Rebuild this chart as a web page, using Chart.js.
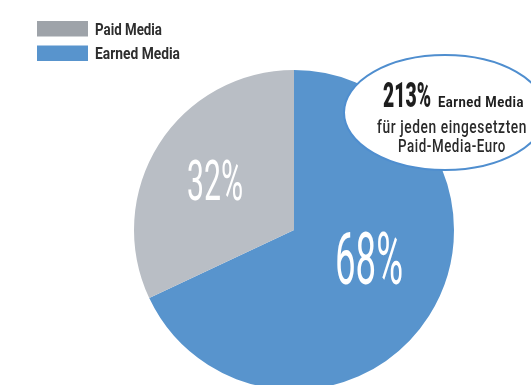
<!DOCTYPE html>
<html lang="de">
<head>
  <meta charset="UTF-8">
  <title>Paid Media vs. Earned Media</title>
  <script src="https://cdn.jsdelivr.net/npm/chart.js"></script>
  <style>
    html, body {
      margin: 0;
      padding: 0;
      background: #ffffff;
      overflow: hidden;
    }
    #wrap {
      position: absolute;
      left: 0;
      top: 0;
      width: 531px;
      height: 400px;
    }
  </style>
</head>
<body>
  <div id="wrap">
    <canvas id="mediaChart" width="531" height="400"></canvas>
  </div>

  <script>
    // legend order: Paid Media on top
    const categories = ['Paid Media', 'Earned Media'];
    const shares = [32, 68];
    const sliceColors = ['#b9bec5', '#5894cd'];
    const legendColors = ['#9ea3a9', '#5894cd'];
    const earnedPerEuro = 213;
    const calloutUnit = 'Earned Media';
    const calloutLines = ['für jeden eingesetzten', 'Paid-Media-Euro'];

    const FONT = 'Roboto, "Noto Sans", sans-serif';

    // the pie runs clockwise from 12 o'clock, Earned Media first
    const pieLabels = categories.slice().reverse();
    const pieValues = shares.slice().reverse();
    const pieColors = sliceColors.slice().reverse();

    // per slice: font size, squeezed width, radial fraction, angle nudge (deg)
    const labelStyle = [
      { size: 72, w: 68, r: 0.50, nudge: -12 },
      { size: 56, w: 56, r: 0.585, nudge: 0 }
    ];

    // draws text squeezed horizontally to a given width (condensed look)
    function fillFit(ctx, text, x, y, width, align) {
      const natural = ctx.measureText(text).width;
      const sx = Math.min(1, width / natural);
      ctx.save();
      ctx.translate(x, y);
      ctx.scale(sx, 1);
      ctx.textAlign = align || 'left';
      ctx.fillText(text, 0, 0);
      ctx.restore();
    }

    const decorations = {
      id: 'decorations',
      afterDatasetsDraw(chart) {
        const ctx = chart.ctx;
        const meta = chart.getDatasetMeta(0);
        ctx.textBaseline = 'alphabetic';

        // percentage labels inside the slices
        meta.data.forEach((arc, i) => {
          const st = labelStyle[i];
          const mid = (arc.startAngle + arc.endAngle) / 2 + st.nudge * Math.PI / 180;
          const d = arc.outerRadius * st.r;
          const cx = arc.x + Math.cos(mid) * d;
          const cy = arc.y + Math.sin(mid) * d;
          const text = pieValues[i] + '%';
          ctx.save();
          ctx.font = '400 ' + st.size + 'px ' + FONT;
          ctx.fillStyle = '#ffffff';
          const m = ctx.measureText(text);
          const base = cy + (m.actualBoundingBoxAscent - m.actualBoundingBoxDescent) / 2;
          fillFit(ctx, text, cx, base, st.w, 'center');
          ctx.restore();
        });

        // legend, top left
        const legendWidths = [67, 85];
        ctx.save();
        categories.forEach((name, i) => {
          const y = 21 + i * 24.5;
          ctx.fillStyle = legendColors[i];
          ctx.fillRect(37, y, 51, 15.5);
          ctx.fillStyle = '#2e2e2e';
          ctx.font = '700 17px ' + FONT;
          fillFit(ctx, name, 95, y + 13.5, legendWidths[i]);
        });
        ctx.restore();

        // callout bubble
        ctx.save();
        ctx.beginPath();
        ctx.ellipse(445, 112.5, 101, 57.5, 0, 0, Math.PI * 2);
        ctx.fillStyle = '#ffffff';
        ctx.fill();
        ctx.lineWidth = 2;
        ctx.strokeStyle = '#4f8ecf';
        ctx.stroke();

        ctx.fillStyle = '#1e1e1e';
        ctx.font = '900 35px ' + FONT;
        fillFit(ctx, earnedPerEuro + '%', 383, 107, 48);
        ctx.font = '700 14px ' + FONT;
        ctx.letterSpacing = '0.5px';
        fillFit(ctx, calloutUnit, 438, 107, 86);

        ctx.font = '500 19px ' + FONT;
        ctx.letterSpacing = '0.8px';
        ctx.fillStyle = '#2a2a2a';
        fillFit(ctx, calloutLines[0], 452, 133, 150, 'center');
        fillFit(ctx, calloutLines[1], 452, 152, 108, 'center');
        ctx.restore();
      }
    };

    new Chart(document.getElementById('mediaChart'), {
      type: 'pie',
      data: {
        labels: pieLabels,
        datasets: [{
          data: pieValues,
          backgroundColor: pieColors,
          borderWidth: 0
        }]
      },
      options: {
        responsive: false,
        animation: false,
        layout: {
          padding: { left: 134, right: 77, top: 70, bottom: 10 }
        },
        plugins: {
          legend: { display: false },
          tooltip: { enabled: false }
        }
      },
      plugins: [decorations]
    });
  </script>
</body>
</html>
